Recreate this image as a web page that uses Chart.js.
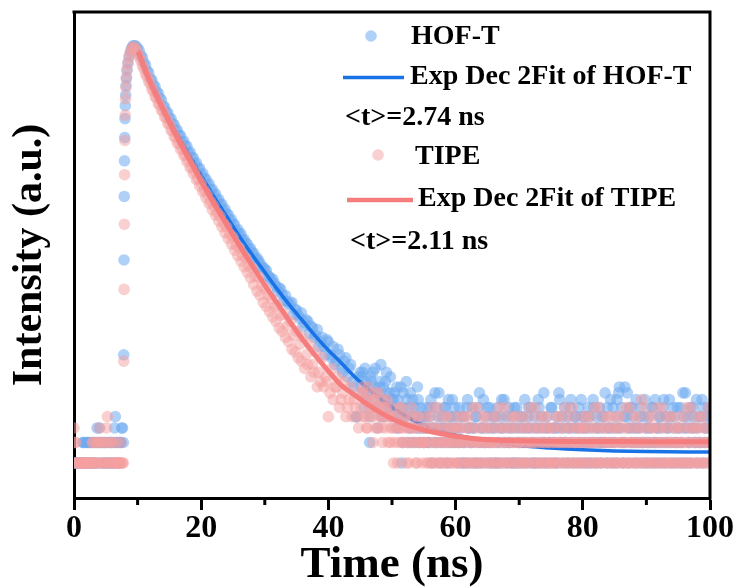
<!DOCTYPE html>
<html><head><meta charset="utf-8">
<script src="https://cdn.jsdelivr.net/npm/chart.js@4.4.1/dist/chart.umd.min.js"></script>
<style>html,body{margin:0;padding:0;background:#fff;}canvas{display:block;}</style>
</head><body>
<canvas id="c" width="743" height="588"></canvas>
<script>
// ---------- data ----------
const seriesLabels = ['HOF-T', 'Exp Dec 2Fit of HOF-T', 'TIPE', 'Exp Dec 2Fit of TIPE'];
const lifetimeLabels = ['<t>=2.74 ns', '<t>=2.11 ns'];
const xTickLabelValues = [0, 20, 40, 60, 80, 100];

// channel times (ns)
const preTimes = [0,0.25,0.5,0.75,1,1.25,1.5,1.75,2,2.25,2.5,2.75,3,3.25,3.5,3.75,4,4.25,4.5,4.75,5,5.25,5.5,5.75,6,6.25,6.5,6.75,7,7.25,7.5,7.75];
const preTimesB = [0.125,0.375,0.625,0.875,1.125,1.375,1.625,1.875,2.125,2.375,2.625,2.875,3.125,3.375,3.625,3.875,4.125,4.375,4.625,4.875,5.125,5.375,5.625,5.875,6.125,6.375,6.625,6.875,7.125,7.375,7.625];
const decayTimes = [9.5,10,10.5,11,11.5,12,12.5,13,13.5,14,14.5,15,15.5,16,16.5,17,17.5,18,18.5,19,19.5,20,20.5,21,21.5,22,22.5,23,23.5,24,24.5,25,25.5,26,26.5,27,27.5,28,28.5,29,29.5,30,30.5,31,31.5,32,32.5,33,33.5,34,34.5,35,35.5,36,36.5,37,37.5,38,38.5,39,39.5,40,40.5,41,41.5,42,42.5,43,43.5,44,44.5,45];
const decayTimesB = [9.75,10.25,10.75,11.25,11.75,12.25,12.75,13.25,13.75,14.25,14.75,15.25,15.75,16.25,16.75,17.25,17.75,18.25,18.75,19.25,19.75,20.25,20.75,21.25,21.75,22.25,22.75,23.25,23.75,24.25,24.75,25.25,25.75,26.25,26.75,27.25,27.75,28.25,28.75,29.25,29.75,30.25,30.75,31.25,31.75,32.25,32.75,33.25,33.75,34.25,34.75,35.25,35.75,36.25,36.75,37.25,37.75,38.25,38.75,39.25,39.75,40.25,40.75,41.25,41.75,42.25,42.75,43.25,43.75,44.25,44.75];
const tailTimes = [
45.25,45.5,45.75,46,46.25,46.5,46.75,47,47.25,47.5,47.75,48,48.25,48.5,48.75,49,49.25,49.5,49.75,50,
50.25,50.5,50.75,51,51.25,51.5,51.75,52,52.25,52.5,52.75,53,53.25,53.5,53.75,54,54.25,54.5,54.75,55,
55.25,55.5,55.75,56,56.25,56.5,56.75,57,57.25,57.5,57.75,58,58.25,58.5,58.75,59,59.25,59.5,59.75,60,
60.25,60.5,60.75,61,61.25,61.5,61.75,62,62.25,62.5,62.75,63,63.25,63.5,63.75,64,64.25,64.5,64.75,65,
65.25,65.5,65.75,66,66.25,66.5,66.75,67,67.25,67.5,67.75,68,68.25,68.5,68.75,69,69.25,69.5,69.75,70,
70.25,70.5,70.75,71,71.25,71.5,71.75,72,72.25,72.5,72.75,73,73.25,73.5,73.75,74,74.25,74.5,74.75,75,
75.25,75.5,75.75,76,76.25,76.5,76.75,77,77.25,77.5,77.75,78,78.25,78.5,78.75,79,79.25,79.5,79.75,80,
80.25,80.5,80.75,81,81.25,81.5,81.75,82,82.25,82.5,82.75,83,83.25,83.5,83.75,84,84.25,84.5,84.75,85,
85.25,85.5,85.75,86,86.25,86.5,86.75,87,87.25,87.5,87.75,88,88.25,88.5,88.75,89,89.25,89.5,89.75,90,
90.25,90.5,90.75,91,91.25,91.5,91.75,92,92.25,92.5,92.75,93,93.25,93.5,93.75,94,94.25,94.5,94.75,95,
95.25,95.5,95.75,96,96.25,96.5,96.75,97,97.25,97.5,97.75,98,98.25,98.5,98.75,99,99.25,99.5,99.75,100];
const tailTimesB = [
45.125,45.375,45.625,45.875,46.125,46.375,46.625,46.875,47.125,47.375,47.625,47.875,48.125,48.375,48.625,48.875,49.125,49.375,49.625,49.875,
50.125,50.375,50.625,50.875,51.125,51.375,51.625,51.875,52.125,52.375,52.625,52.875,53.125,53.375,53.625,53.875,54.125,54.375,54.625,54.875,
55.125,55.375,55.625,55.875,56.125,56.375,56.625,56.875,57.125,57.375,57.625,57.875,58.125,58.375,58.625,58.875,59.125,59.375,59.625,59.875,
60.125,60.375,60.625,60.875,61.125,61.375,61.625,61.875,62.125,62.375,62.625,62.875,63.125,63.375,63.625,63.875,64.125,64.375,64.625,64.875,
65.125,65.375,65.625,65.875,66.125,66.375,66.625,66.875,67.125,67.375,67.625,67.875,68.125,68.375,68.625,68.875,69.125,69.375,69.625,69.875,
70.125,70.375,70.625,70.875,71.125,71.375,71.625,71.875,72.125,72.375,72.625,72.875,73.125,73.375,73.625,73.875,74.125,74.375,74.625,74.875,
75.125,75.375,75.625,75.875,76.125,76.375,76.625,76.875,77.125,77.375,77.625,77.875,78.125,78.375,78.625,78.875,79.125,79.375,79.625,79.875,
80.125,80.375,80.625,80.875,81.125,81.375,81.625,81.875,82.125,82.375,82.625,82.875,83.125,83.375,83.625,83.875,84.125,84.375,84.625,84.875,
85.125,85.375,85.625,85.875,86.125,86.375,86.625,86.875,87.125,87.375,87.625,87.875,88.125,88.375,88.625,88.875,89.125,89.375,89.625,89.875,
90.125,90.375,90.625,90.875,91.125,91.375,91.625,91.875,92.125,92.375,92.625,92.875,93.125,93.375,93.625,93.875,94.125,94.375,94.625,94.875,
95.125,95.375,95.625,95.875,96.125,96.375,96.625,96.875,97.125,97.375,97.625,97.875,98.125,98.375,98.625,98.875,99.125,99.375,99.625,99.875];

// HOF-T counts
const hofT_pre = [2,2,2,2,2,2,3,2,3,2,3,2,3,2,2,3,4,3,2,3,2,3,2,3,2,3,5,3,2,3,4,3];
const hofT_preB = [2,2,2,2,2,3,3,2,3,3,2,3,2,3,4,3,2,3,3,2,3,2,3,3,2,4,3,2,3,3,4];
const hofT_riseT = [7.82,7.86,7.9,7.94,7.98,8.02,8.07,8.12,8.18,8.25,8.35,8.5,8.7,8.9,9.1,9.3];
const hofT_rise = [17,111,390,790,1250,1820,2350,2900,3500,4100,4800,5500,6300,6900,7400,7700];
const hofT_decay = [7700,7300,6350,5480,4690,4010,3530,3090,2720,2330,2070,1820,1640,1450,1310,1150,1060,930,850,745,680,600,556,490,447,402,362,336,298,275,243,226,199,186,166,155,138,130,114,110,97,92,81,75,70,60,62,50,49,47,38,41,35,30,34,26,29,25,20,24,17,22,16,14,19,13,15,11,14,9,5,12];
const hofT_decayB = [7650,7000,6100,5250,4520,3900,3420,3000,2640,2300,2040,1820,1620,1450,1300,1170,1050,940,840,760,680,615,550,500,450,410,368,334,302,272,248,224,203,186,167,152,140,126,116,104,96,90,79,76,66,64,56,55,46,48,42,37,39,32,33,30,24,28,22,20,23,17,20,15,17,12,16,13,10,5,11];
const hofT_tail = [
11,8,13,7,9,3,10,12,6,8,4,9,14,7,5,10,8,6,11,7,
7,5,9,4,6,2,8,5,10,3,6,4,7,5,3,9,4,6,5,3,
5,4,3,6,2,4,8,3,5,2,4,3,6,4,2,5,3,7,4,3,
4,2,3,5,3,2,6,4,2,3,4,2,5,3,8,2,4,3,2,6,
3,2,4,2,5,3,2,4,7,2,3,5,2,3,4,2,6,3,2,4,
2,5,3,2,4,6,2,3,2,4,3,7,2,5,3,2,4,2,3,6,
3,2,4,2,8,3,5,2,3,4,2,6,3,2,5,4,2,3,7,2,
4,3,2,5,2,3,6,2,4,3,2,5,3,8,2,4,3,2,6,3,
2,4,9,3,2,5,3,8,2,4,6,3,2,4,3,5,2,3,7,2,
4,3,2,6,3,2,4,5,2,3,7,2,4,3,5,2,6,3,2,4,
3,2,8,4,2,5,3,2,6,4,3,2,5,3,7,2,4,3,6,5];
const hofT_tailB = [
9,12,6,10,8,5,11,7,9,13,6,8,10,5,9,7,12,6,8,5,
6,8,4,7,5,9,3,6,5,7,4,8,3,5,6,4,7,3,5,4,
4,6,3,5,7,4,3,6,4,8,3,5,4,6,3,7,4,5,3,6,
5,3,6,4,2,5,3,7,4,3,6,4,5,2,6,3,4,7,3,5,
4,6,3,5,4,2,6,3,5,4,7,3,4,6,3,5,2,4,6,3,
5,3,4,7,3,5,4,6,3,5,2,4,6,3,4,8,3,5,4,3,
6,4,3,5,4,7,3,4,6,3,5,4,7,3,4,5,3,6,4,5,
3,5,4,6,3,4,7,3,5,4,6,3,4,5,3,6,4,7,3,4,
5,7,8,4,6,3,9,5,4,6,3,5,4,7,3,4,6,3,5,4,
3,5,4,6,3,7,4,3,5,4,6,3,5,4,7,3,4,5,3,6,
4,6,3,5,8,4,3,6,4,5,3,7,4,3,5,6,3,4,5,3];

// TIPE counts
const tipe_pre = [4,3,2,2,2,2,2,2,2,2,2,2,3,2,3,2,4,3,2,3,2,5,3,2,3,2,2,3,2,2,2,2];
const tipe_preB = [3,2,2,2,2,2,2,2,2,2,2,3,2,2,3,2,3,2,2,3,4,2,2,3,2,2,2,2,2,3,2];
const tipe_riseT = [7.82,7.88,7.92,7.96,8.0,8.05,8.1,8.16,8.23,8.32,8.45,8.62,8.82,9.02,9.25];
const tipe_rise = [15,62,225,600,1180,1950,2700,3350,4000,4700,5400,6100,6700,7200,7500];
const tipe_decay = [7500,6800,5750,4900,4180,3620,3120,2740,2400,2110,1850,1640,1430,1270,1120,1010,890,800,700,640,556,503,441,405,352,323,284,262,229,213,184,174,148,141,121,116,98,95,80,79,66,63,55,52,44,45,37,38,30,33,25,27,21,24,17,21,14,18,12,16,11,5,13,9,11,7,10,6,9,7,5,8];
const tipe_decayB = [7200,6200,5200,4400,3800,3250,2800,2450,2150,1880,1650,1450,1270,1120,990,880,780,690,615,545,480,430,380,340,300,270,240,214,190,170,152,135,121,108,97,87,78,68,60,55,48,44,40,36,33,29,27,24,22,19,18,16,15,13,14,11,12,9,10,9,10,8,7,9,6,8,5,7,5,6,4];
const tipe_tail = [
8,5,7,4,9,6,5,3,7,8,4,6,5,3,6,4,7,5,3,6,
2,5,4,3,6,4,3,5,2,4,3,6,4,3,2,5,3,4,2,3,
4,2,3,5,2,4,3,2,6,3,4,2,3,5,2,3,4,2,3,5,
2,3,4,2,3,5,2,4,3,2,6,3,2,4,3,2,5,3,4,2,
3,2,4,3,2,5,3,2,4,3,6,2,3,4,2,3,5,2,4,3,
2,4,3,2,5,3,4,2,3,6,2,4,3,2,5,3,2,4,3,2,
4,3,2,5,3,2,4,3,6,2,3,4,2,5,3,2,4,3,2,5,
3,2,4,3,5,2,3,4,2,6,3,2,4,3,2,5,3,4,2,3,
2,5,3,4,2,3,6,2,4,3,2,5,3,2,4,3,7,2,3,4,
3,2,4,5,2,3,4,2,3,6,2,4,3,2,5,3,2,4,3,2,
4,3,2,5,3,2,4,6,2,3,4,2,3,5,2,4,3,2,6,3];
const tipe_tailB = [
6,9,5,7,4,8,6,5,7,4,6,8,5,4,7,5,6,3,5,4,
4,3,5,2,4,6,3,4,5,3,2,4,5,3,4,2,5,3,4,3,
3,5,2,4,3,6,2,4,3,5,2,3,4,2,5,3,4,2,3,4,
2,4,3,5,2,3,4,2,5,3,4,2,3,6,2,4,3,2,5,3,
4,2,3,5,3,2,4,6,2,3,4,2,5,3,2,4,3,5,2,3,
3,5,2,4,3,2,6,3,4,2,3,5,2,4,3,2,4,5,3,2,
2,4,3,2,5,3,4,2,3,5,2,4,3,6,2,3,4,2,3,4,
4,2,5,3,2,4,3,6,2,3,4,2,5,3,4,2,3,5,2,4,
3,4,2,5,3,2,4,3,2,6,3,4,2,3,5,2,4,3,6,2,
2,5,3,4,2,3,6,2,4,3,5,2,3,4,2,5,3,2,4,3,
5,2,3,4,2,6,3,2,4,3,5,2,4,3,2,5,3,4,2,3];

// fitted curves
const hofTFitT = [10.1,11,12,13,14,15,16,18,20,22,24,26,28,30,32,34,36,38,40,42,44,46,48,50,52,54,56,58,60,62,64,66,68,70,75,80,85,90,100];
const hofTFit = [7100,5370,3890,3020,2291,1778,1413,912,589,389,263,178,123,87.1,61.7,44.7,33.1,24.5,18.6,14.5,11.2,8.91,7.24,6.03,5.13,4.47,3.98,3.67,3.47,3.31,3.16,3.02,2.92,2.82,2.69,2.60,2.54,2.51,2.48];
const tipeFitT = [10.1,11,12,13,14,15,16,18,20,22,24,26,28,30,32,34,36,38,40,42,44,46,48,50,52,54,56,58,60,64,70,80,90,100];
const tipeFit = [6800,5012,3715,2818,2188,1698,1318,832,525,339,224,148,100,67.6,46.8,32.4,22.9,16.6,12.3,9.33,7.76,6.46,5.50,4.79,4.32,3.98,3.72,3.55,3.39,3.20,3.10,3.06,3.05,3.04];

// ---------- build ----------
function zip(t, v) { return t.map((x, i) => ({x: x, y: v[i]})); }
const hofTPoints = [].concat(
  zip(preTimes, hofT_pre), zip(preTimesB, hofT_preB), zip(hofT_riseT, hofT_rise),
  zip(decayTimes, hofT_decay), zip(decayTimesB, hofT_decayB),
  zip(tailTimes, hofT_tail), zip(tailTimesB, hofT_tailB));
const tipePoints = [].concat(
  zip(preTimes, tipe_pre), zip(preTimesB, tipe_preB), zip(tipe_riseT, tipe_rise),
  zip(decayTimes, tipe_decay), zip(decayTimesB, tipe_decayB),
  zip(tailTimes, tipe_tail), zip(tailTimesB, tipe_tailB));

const BLUE_DOT = 'rgba(110,170,240,0.55)';
const PINK_DOT = 'rgba(245,160,160,0.5)';
const BLUE_LINE = 'rgb(25,115,230)';
const PINK_LINE = 'rgb(246,125,125)';
const SERIF = "'Liberation Serif','Times New Roman',serif";

Chart.defaults.font.family = SERIF;
Chart.defaults.color = '#000';

const framePlugin = {
  id: 'frame',
  afterDraw(chart) {
    const {ctx, chartArea: a} = chart;
    ctx.save();
    ctx.strokeStyle = '#000';
    ctx.lineWidth = 3;
    ctx.lineCap = 'square';
    ctx.beginPath();
    ctx.moveTo(a.left, a.top);
    ctx.lineTo(a.right, a.top);
    ctx.lineTo(a.right, a.bottom);
    ctx.stroke();
    const xs = chart.scales.x;
    ctx.lineCap = 'butt';
    xs.ticks.forEach(t => {
      if (xTickLabelValues.indexOf(t.value) === -1) {
        const px = xs.getPixelForValue(t.value);
        ctx.beginPath();
        ctx.moveTo(px, a.bottom);
        ctx.lineTo(px, a.bottom + 7);
        ctx.stroke();
      }
    });
    ctx.restore();
  }
};

const legendPlugin = {
  id: 'floatLegend',
  afterDraw(chart) {
    const ctx = chart.ctx;
    ctx.save();
    ctx.font = 'bold 28px ' + SERIF;
    ctx.textAlign = 'left';
    ctx.textBaseline = 'middle';
    ctx.fillStyle = BLUE_DOT;
    ctx.beginPath(); ctx.arc(371, 36, 5.8, 0, Math.PI * 2); ctx.fill();
    ctx.fillStyle = '#000';
    ctx.fillText(seriesLabels[0], 411, 37);
    ctx.strokeStyle = BLUE_LINE; ctx.lineWidth = 3.5;
    ctx.beginPath(); ctx.moveTo(343, 77.5); ctx.lineTo(404, 77.5); ctx.stroke();
    ctx.fillText(seriesLabels[1], 410, 77);
    ctx.fillText(lifetimeLabels[0], 345, 118);
    ctx.fillStyle = PINK_DOT;
    ctx.beginPath(); ctx.arc(378, 155, 5.8, 0, Math.PI * 2); ctx.fill();
    ctx.fillStyle = '#000';
    ctx.fillText(seriesLabels[2], 415, 156.5);
    ctx.strokeStyle = PINK_LINE; ctx.lineWidth = 4.5;
    ctx.beginPath(); ctx.moveTo(347, 200); ctx.lineTo(413, 200); ctx.stroke();
    ctx.fillText(seriesLabels[3], 418, 198.5);
    ctx.fillText(lifetimeLabels[1], 350, 241.5);
    ctx.restore();
  }
};

new Chart(document.getElementById('c'), {
  type: 'scatter',
  data: {
    datasets: [
      { label: seriesLabels[3], type: 'line', data: zip(tipeFitT, tipeFit), borderColor: PINK_LINE, borderWidth: 5,
        pointRadius: 0, fill: false, cubicInterpolationMode: 'monotone', order: 0, clip: 0 },
      { label: seriesLabels[2], data: tipePoints, backgroundColor: PINK_DOT, borderWidth: 0,
        pointRadius: 5.8, pointHoverRadius: 5.8, order: 1, clip: 0 },
      { label: seriesLabels[1], type: 'line', data: zip(hofTFitT, hofTFit), borderColor: BLUE_LINE, borderWidth: 3.5,
        pointRadius: 0, fill: false, cubicInterpolationMode: 'monotone', order: 2, clip: 0 },
      { label: seriesLabels[0], data: hofTPoints, backgroundColor: BLUE_DOT, borderWidth: 0,
        pointRadius: 5.8, pointHoverRadius: 5.8, order: 3, clip: 0 }
    ]
  },
  options: {
    responsive: false,
    animation: false,
    devicePixelRatio: 1,
    layout: { padding: { top: 12, right: 33, left: 0, bottom: 0 } },
    plugins: { legend: { display: false }, tooltip: { enabled: false } },
    scales: {
      x: {
        type: 'linear', min: 0, max: 100, z: 1,
        afterFit(s) { s.height = 90; },
        border: { display: true, width: 3, color: '#000' },
        grid: { display: true, drawOnChartArea: false, drawTicks: true, tickLength: 12, tickWidth: 3,
          tickColor: c => (xTickLabelValues.indexOf(c.tick.value) !== -1 ? '#000' : 'rgba(0,0,0,0)') },
        ticks: { stepSize: 10, padding: 0, maxRotation: 0, autoSkip: false,
          font: { size: 32, weight: 'bold', family: SERIF },
          callback: v => (xTickLabelValues.indexOf(v) !== -1 ? String(v) : '') },
        title: { display: true, text: 'Time (ns)', font: { size: 45, weight: 'bold', family: SERIF, lineHeight: 1 },
          padding: { top: 0, bottom: 0.5 } }
      },
      y: {
        type: 'logarithmic', min: 1, max: 15000, z: 1,
        afterFit(s) { s.width = 74; },
        border: { display: true, width: 3, color: '#000' },
        grid: { display: false },
        ticks: { display: false },
        title: { display: true, text: 'Intensity (a.u.)', font: { size: 42, weight: 'bold', family: SERIF, lineHeight: 1 },
          padding: { top: 9, bottom: 0 } }
      }
    }
  },
  plugins: [framePlugin, legendPlugin]
});
</script>
</body></html>
